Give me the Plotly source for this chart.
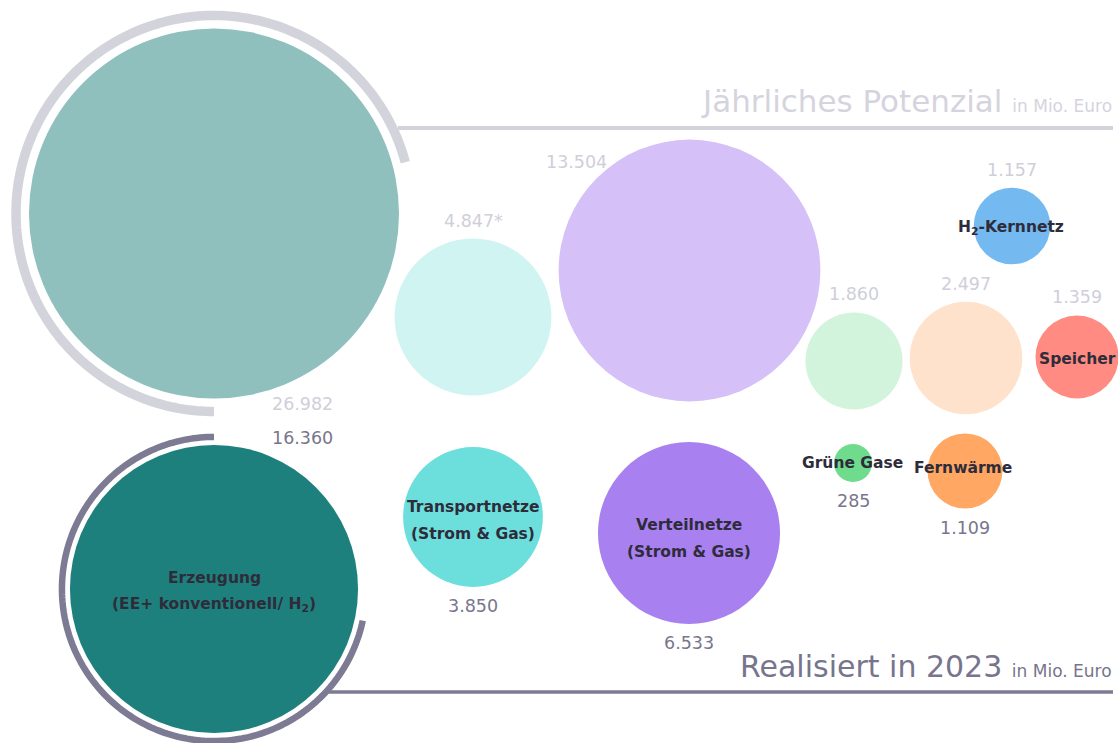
import numpy as np
import plotly.graph_objects as go

# ---------------- data ----------------
categories = ["Erzeugung", "Transportnetze", "Verteilnetze", "Grüne Gase",
              "Fernwärme", "H2-Kernnetz", "Speicher"]
potenzial = [26982, 4847, 13504, 1860, 2497, 1157, 1359]          # Mio. Euro
potenzial_labels = ["26.982", "4.847*", "13.504", "1.860", "2.497", "1.157", "1.359"]
realisiert = [16360, 3850, 6533, 285, 1109, None, None]           # Mio. Euro
realisiert_labels = ["16.360", "3.850", "6.533", "285", "1.109", None, None]
display_names = [["Erzeugung", "(EE+ konventionell/ H<sub>2</sub>)"],
                 ["Transportnetze", "(Strom & Gas)"],
                 ["Verteilnetze", "(Strom & Gas)"],
                 ["Grüne Gase"], ["Fernwärme"],
                 ["H<sub>2</sub>-Kernnetz"], ["Speicher"]]

# ---------------- layout (positions / styles) ----------------
W, H = 1118, 743
top_pos = [(214, 213.5), (473, 317), (689.5, 270.5), (854, 361), (966, 358), (1012, 226), (1077, 357)]
bot_pos = [(214, 589), (473, 517), (689, 533), (853, 463), (965, 471), None, None]
top_colors = ["#8fc0bd", "#cff4f2", "#d5c0f8", "#d2f4dc", "#ffe2cc", "#74b9ef", "#ff8b82"]
bot_colors = ["#1e807c", "#6cdfdc", "#a880f0", "#6fdc8d", "#ffa763", None, None]
MAX_DIAM = 370
LIGHT = "#cfcfd9"
DARK = "#78768e"
LABEL = "#2e2c3a"
FONT = "DejaVu Sans"

vmax = max(potenzial)
sizeref = 2.0 * vmax / (MAX_DIAM ** 2)


def radius(v):
    # plotly area mode: radius = sqrt(v / 2 / sizeref)
    return np.sqrt(v / 2.0 / sizeref)


fig = go.Figure()

# top row bubbles (potential)
fig.add_trace(go.Scatter(
    x=[p[0] for p in top_pos], y=[p[1] for p in top_pos],
    mode="markers",
    marker=dict(size=potenzial, sizemode="area", sizeref=sizeref,
                color=top_colors, line=dict(width=0), opacity=1),
    hoverinfo="skip", showlegend=False))

# bottom row bubbles (realised)
bi = [i for i, v in enumerate(realisiert) if v is not None]
fig.add_trace(go.Scatter(
    x=[bot_pos[i][0] for i in bi], y=[bot_pos[i][1] for i in bi],
    mode="markers",
    marker=dict(size=[realisiert[i] for i in bi], sizemode="area", sizeref=sizeref,
                color=[bot_colors[i] for i in bi], line=dict(width=0), opacity=1),
    hoverinfo="skip", showlegend=False))

shapes = []


def arc_path(cx, cy, R, a0, a1, n=200):
    th = np.radians(np.linspace(a0, a1, n))
    xs = cx + R * np.cos(th)
    ys = cy - R * np.sin(th)
    return "M " + " L ".join(f"{x:.2f},{y:.2f}" for x, y in zip(xs, ys))


r_top0 = radius(potenzial[0])
r_bot0 = radius(realisiert[0])
shapes.append(dict(type="path", path=arc_path(top_pos[0][0], top_pos[0][1], r_top0 + 13, -90, -345),
                   line=dict(color="#d3d3dc", width=9.5), layer="below", xref="x", yref="y"))
shapes.append(dict(type="path", path=arc_path(bot_pos[0][0], bot_pos[0][1], r_bot0 + 8, 90, 348),
                   line=dict(color="#7d7b93", width=6.5), layer="below", xref="x", yref="y"))
# horizontal rules
shapes.append(dict(type="line", x0=398, x1=1113, y0=128, y1=128,
                   line=dict(color="#d3d3dc", width=4), layer="below"))
shapes.append(dict(type="line", x0=328, x1=1113, y0=692, y1=692,
                   line=dict(color="#7d7b93", width=3.5), layer="below"))

annotations = []


def ann(x, y, text, color, size, bold=False, xanchor="center", yanchor="middle"):
    annotations.append(dict(x=x, y=y, text=f"<b>{text}</b>" if bold else text,
                            showarrow=False, xanchor=xanchor, yanchor=yanchor,
                            font=dict(family=FONT, size=size, color=color)))


NUM_SIZE = 17.5
# value labels - potential
top_label_mode = ["fixed", "above", "fixed", "above", "above", "above", "above"]
top_label_fixed = {0: (302, 404), 2: (576, 162)}
for i, txt in enumerate(potenzial_labels):
    cx, cy = top_pos[i]
    if top_label_mode[i] == "fixed":
        x, y = top_label_fixed[i]
    else:
        x, y = cx, cy - radius(potenzial[i]) - 18
    ann(x, y, txt, LIGHT, NUM_SIZE)

# value labels - realised
bot_label_fixed = {0: (302, 438)}
for i in bi:
    cx, cy = bot_pos[i]
    if i in bot_label_fixed:
        x, y = bot_label_fixed[i]
    else:
        x, y = cx, cy + radius(realisiert[i]) + 19
    ann(x, y, realisiert_labels[i], DARK, NUM_SIZE)

# category labels (each line its own text, line spacing ~27 px)
label_pos = [(214, 591), (473, 520), (689, 538), (852, 463), (963, 468), (1011, 228), (1077, 359)]
LINE_GAP = 27
for i, lines in enumerate(display_names):
    n = len(lines)
    for k, line in enumerate(lines):
        y = label_pos[i][1] + (k - (n - 1) / 2) * LINE_GAP
        ann(label_pos[i][0], y, line, LABEL, 15.5, bold=True)

# section titles
annotations.append(dict(x=1114, y=101, xanchor="right", yanchor="middle", showarrow=False,
                        text="Jährliches Potenzial <span style='font-size:17px'>in Mio. Euro</span>",
                        font=dict(family=FONT, size=31, color="#d5d4de")))
annotations.append(dict(x=1114, y=666, xanchor="right", yanchor="middle", showarrow=False,
                        text="Realisiert in 2023 <span style='font-size:17px'>in Mio. Euro</span>",
                        font=dict(family=FONT, size=30, color="#77758d")))

fig.update_layout(
    width=W, height=H,
    margin=dict(l=0, r=0, t=0, b=0),
    paper_bgcolor="white", plot_bgcolor="white",
    xaxis=dict(range=[0, W], visible=False, fixedrange=True),
    yaxis=dict(range=[H, 0], visible=False, fixedrange=True),
    shapes=shapes, annotations=annotations,
    hovermode=False,
)

fig.write_html("out.html", config={"displayModeBar": False},
               post_script="document.body.style.margin='0px';document.body.style.overflow='hidden';")
